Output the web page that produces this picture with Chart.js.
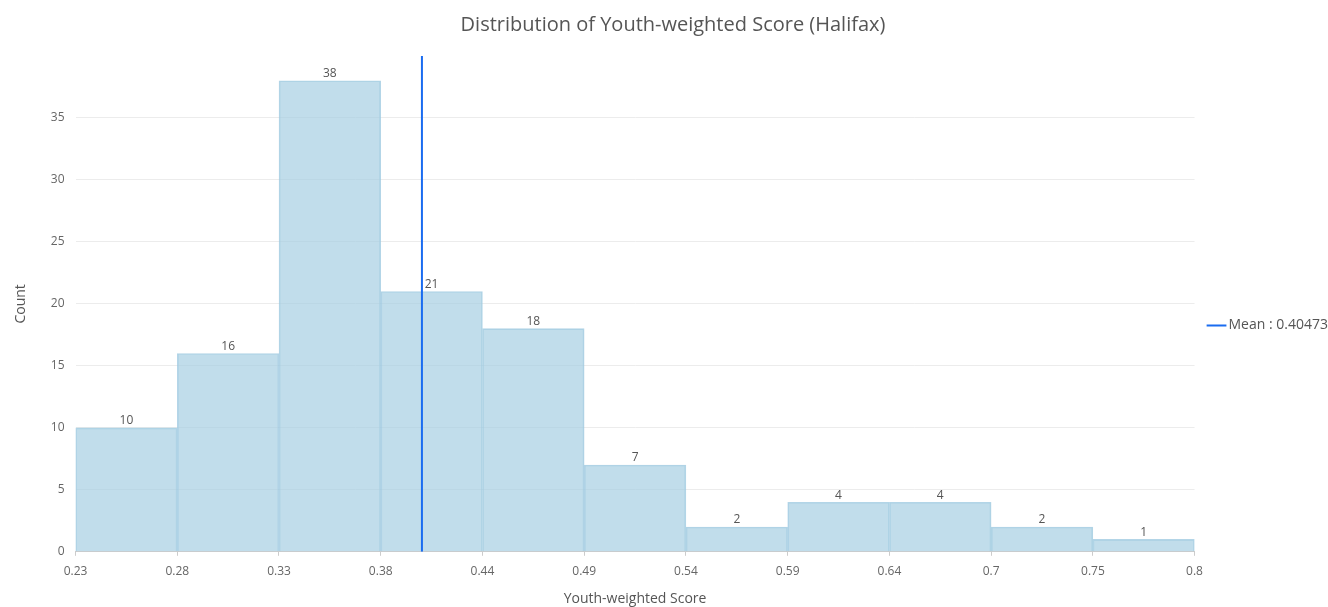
<!DOCTYPE html>
<html>
<head>
<meta charset="utf-8">
<script src="https://cdn.jsdelivr.net/npm/chart.js@4"></script>
<style>
  html, body { margin: 0; padding: 0; background: #fff; }
  #wrap { width: 1328px; height: 607px; }
</style>
</head>
<body>
<div id="wrap"><canvas id="histChart"></canvas></div>
<script>
// bin edges (estimated from the axis) and counts
const binEdges = [0.2275, 0.27955, 0.3316, 0.38365, 0.4357, 0.48775, 0.5398, 0.59185, 0.6439, 0.69595, 0.748, 0.8];
const edgeLabels = ["0.23", "0.28", "0.33", "0.38", "0.44", "0.49", "0.54", "0.59", "0.64", "0.7", "0.75", "0.8"];
const counts = [10, 16, 38, 21, 18, 7, 2, 4, 4, 2, 1];
const meanValue = 0.40473;

const barPoints = counts.map((c, i) => ({ x: (binEdges[i] + binEdges[i + 1]) / 2, y: c }));

// Draw count labels above the bars
const barLabels = {
  id: "barLabels",
  afterDatasetsDraw(chart) {
    const ctx = chart.ctx;
    const meta = chart.getDatasetMeta(0);
    ctx.save();
    ctx.font = "12px 'Open Sans', sans-serif";
    ctx.fillStyle = "#555";
    ctx.textAlign = "center";
    ctx.textBaseline = "bottom";
    meta.data.forEach((bar, i) => {
      ctx.fillText(counts[i], bar.x, bar.y - 1);
    });
    ctx.restore();
  },
};

const ctx = document.getElementById("histChart").getContext("2d");
new Chart(ctx, {
  type: "bar",
  data: {
    datasets: [
      {
        label: "Count",
        data: barPoints,
        backgroundColor: "rgba(166, 206, 227, 0.7)",
        borderColor: "rgba(160, 202, 225, 0.8)",
        borderWidth: 1,
        barPercentage: 1,
        categoryPercentage: 1,
        order: 2,
      },
      {
        type: "line",
        label: "Mean : " + meanValue,
        data: [{ x: meanValue, y: 0 }, { x: meanValue, y: 40 }],
        borderColor: "#1a6cf0",
        borderWidth: 2,
        pointRadius: 0,
        fill: false,
        order: 1,
      },
    ],
  },
  options: {
    responsive: true,
    maintainAspectRatio: false,
    animation: false,
    layout: { padding: { left: 8, right: -10, top: 0, bottom: 0 } },
    plugins: {
      title: {
        display: true,
        text: "Distribution of Youth-weighted Score (Halifax)",
        color: "#555",
        font: { family: "'Open Sans', sans-serif", size: 20, weight: "normal" },
        padding: { top: 13, bottom: 19 },
      },
      legend: {
        position: "right",
        // empty title pushes the single item a bit below centre
        title: { display: true, text: " ", font: { size: 30 }, padding: { top: 4, bottom: 4 } },
        labels: {
          filter: (item) => item.datasetIndex === 1,
          usePointStyle: true,
          pointStyle: "line",
          boxWidth: 10,
          color: "#555",
          font: { family: "'Open Sans', sans-serif", size: 14 },
          padding: 17,
        },
      },
      tooltip: { enabled: false },
    },
    scales: {
      x: {
        type: "linear",
        offset: false,
        min: binEdges[0],
        max: binEdges[binEdges.length - 1],
        afterBuildTicks: (axis) => {
          axis.ticks = binEdges.map((v) => ({ value: v }));
        },
        ticks: {
          autoSkip: false,
          maxRotation: 0,
          padding: 9,
          color: "#666",
          font: { family: "'Open Sans', sans-serif", size: 12 },
          callback: (value, index) => edgeLabels[index],
        },
        grid: { display: true, offset: false, drawOnChartArea: false, drawTicks: true, tickLength: 4, color: "#ccc" },
        border: { color: "#ccc" },
        title: {
          display: true,
          text: "Youth-weighted Score",
          color: "#555",
          font: { family: "'Open Sans', sans-serif", size: 14 },
          padding: { top: 2, bottom: 0 },
        },
      },
      y: {
        min: 0,
        max: 40,
        ticks: {
          stepSize: 5,
          padding: 11,
          color: "#666",
          font: { family: "'Open Sans', sans-serif", size: 12 },
          callback: (value) => (value === 40 ? "" : value),
        },
        grid: {
          color: (c) => (c.tick && c.tick.value === 40 ? "rgba(0,0,0,0)" : "#ececec"),
          drawTicks: false,
        },
        border: { display: false },
        title: {
          display: true,
          text: "Count",
          color: "#555",
          font: { family: "'Open Sans', sans-serif", size: 14 },
          padding: { top: 5, bottom: 10 },
        },
      },
    },
  },
  plugins: [barLabels],
});
</script>
</body>
</html>
